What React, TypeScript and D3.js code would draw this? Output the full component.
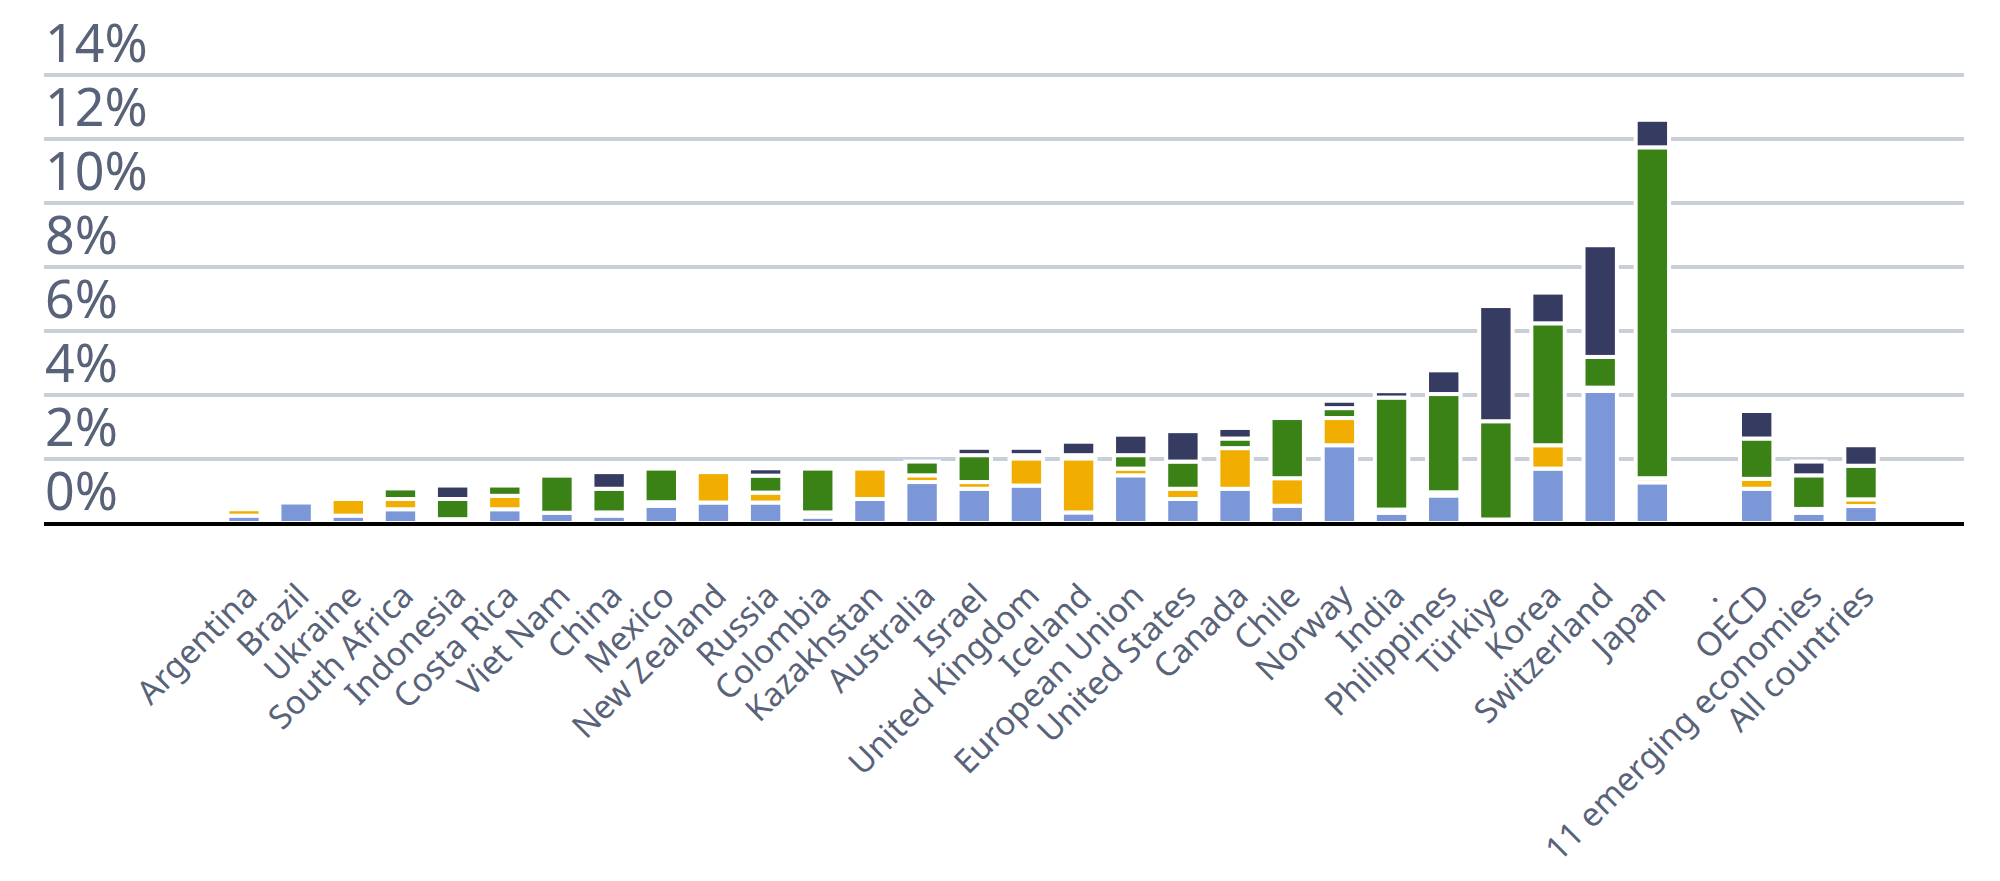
import { useEffect, useRef } from 'react';
import * as d3 from 'd3';

const categories = [
  'Argentina', 'Brazil', 'Ukraine', 'South Africa', 'Indonesia', 'Costa Rica', 'Viet Nam', 'China',
  'Mexico', 'New Zealand', 'Russia', 'Colombia', 'Kazakhstan', 'Australia', 'Israel', 'United Kingdom',
  'Iceland', 'European Union', 'United States', 'Canada', 'Chile', 'Norway', 'India', 'Philippines',
  'Türkiye', 'Korea', 'Switzerland', 'Japan', '.', 'OECD', '11 emerging economies', 'All countries',
];

// stacked from the bottom: blue, orange, green, navy (% values)
const blueValues = [
  0.23, 0.64, 0.23, 0.43, 0.12, 0.43, 0.32, 0.23, 0.54, 0.64, 0.64, 0.2, 0.75, 1.28, 1.07, 1.17,
  0.33, 1.49, 0.75, 1.07, 0.54, 2.43, 0.32, 0.86, 0.11, 1.7, 4.13, 1.27, 0, 1.07, 0.32, 0.53,
];
const orangeValues = [
  0.2, 0, 0.52, 0.32, 0, 0.42, 0, 0.1, 0.11, 0.95, 0.31, 0.13, 0.95, 0.21, 0.21, 0.85,
  1.69, 0.21, 0.32, 1.27, 0.86, 0.85, 0.1, 0.1, 0, 0.73, 0.1, 0.13, 0, 0.31, 0.12, 0.21,
];
const greenValues = [
  0, 0, 0, 0.33, 0.63, 0.32, 1.16, 0.74, 1.05, 0, 0.53, 1.37, 0, 0.43, 0.84, 0.1,
  0.1, 0.42, 0.85, 0.3, 1.88, 0.31, 3.5, 3.07, 3.07, 3.81, 0.96, 10.34, 0, 1.26, 1.05, 1.05,
];
const navyValues = [
  0, 0, 0, 0, 0.42, 0, 0, 0.52, 0, 0, 0.23, 0, 0, 0, 0.23, 0.23,
  0.42, 0.64, 0.95, 0.33, 0, 0.23, 0.2, 0.74, 3.6, 0.96, 3.49, 0.86, 0, 0.86, 0.43, 0.64,
];

const seriesKeys = ['blue', 'orange', 'green', 'navy'];
const seriesColors = ['#7b97d7', '#f1ae00', '#3a8116', '#363b61'];
const yTicks = [0, 2, 4, 6, 8, 10, 12, 14];

const textColor = '#586279';
const font = '"Noto Sans", sans-serif';

export default function App() {
  const svgRef = useRef<SVGSVGElement>(null);

  useEffect(() => {
    document.body.style.margin = '0';
    if (!svgRef.current) return;

    const svg = d3.select(svgRef.current);
    svg.selectAll('*').remove();

    const width = 2000;
    const height = 881;
    const left = 44;
    const right = 1964;

    const rows = categories.map((c, i) => ({
      cat: c,
      blue: blueValues[i],
      orange: orangeValues[i],
      green: greenValues[i],
      navy: navyValues[i],
    }));

    const x = d3
      .scaleBand<string>()
      .domain(categories)
      .range([217.9, 1887.1])
      .paddingInner(0.36)
      .paddingOuter(0.18);

    const y = d3.scaleLinear().domain([0, 14]).range([523, 75]);

    svg.attr('viewBox', `0 0 ${width} ${height}`).attr('width', width).attr('height', height);

    // gridlines
    svg
      .append('g')
      .selectAll('line')
      .data(yTicks.filter((t) => t > 0))
      .enter()
      .append('line')
      .attr('x1', left)
      .attr('x2', right)
      .attr('y1', (d) => y(d))
      .attr('y2', (d) => y(d))
      .attr('stroke', '#c8cfdb')
      .attr('stroke-width', 4);

    // y labels sit above their lines
    svg
      .append('g')
      .selectAll('text')
      .data(yTicks)
      .enter()
      .append('text')
      .attr('x', 45)
      .attr('y', (d) => y(d) - 13)
      .attr('fill', textColor)
      .attr('font-size', 52)
      .attr('font-family', font)
      .text((d) => `${d}%`);

    const stack = d3.stack<any>().keys(seriesKeys)(rows);

    svg
      .append('g')
      .selectAll('g')
      .data(stack)
      .enter()
      .append('g')
      .attr('fill', (_, i) => seriesColors[i])
      .selectAll('rect')
      .data((s) => s.filter((d) => d[1] - d[0] > 0))
      .enter()
      .append('rect')
      .attr('x', (d) => x(d.data.cat)!)
      .attr('width', x.bandwidth())
      .attr('y', (d) => y(d[1]))
      .attr('height', (d) => y(d[0]) - y(d[1]))
      .attr('stroke', '#ffffff')
      .attr('stroke-width', 4);

    // baseline
    svg
      .append('line')
      .attr('x1', left)
      .attr('x2', right)
      .attr('y1', 524)
      .attr('y2', 524)
      .attr('stroke', '#000000')
      .attr('stroke-width', 4);

    // category labels
    svg
      .append('g')
      .selectAll('text')
      .data(categories)
      .enter()
      .append('text')
      .attr('transform', (d) => `translate(${x(d)! + x.bandwidth() / 2 + 15},${y(0) + 75}) rotate(-45)`)
      .attr('text-anchor', 'end')
      .attr('fill', textColor)
      .attr('font-size', 33)
      .attr('font-family', font)
      .text((d) => d);
  }, []);

  return <svg ref={svgRef} style={{ display: 'block' }} />;
}
